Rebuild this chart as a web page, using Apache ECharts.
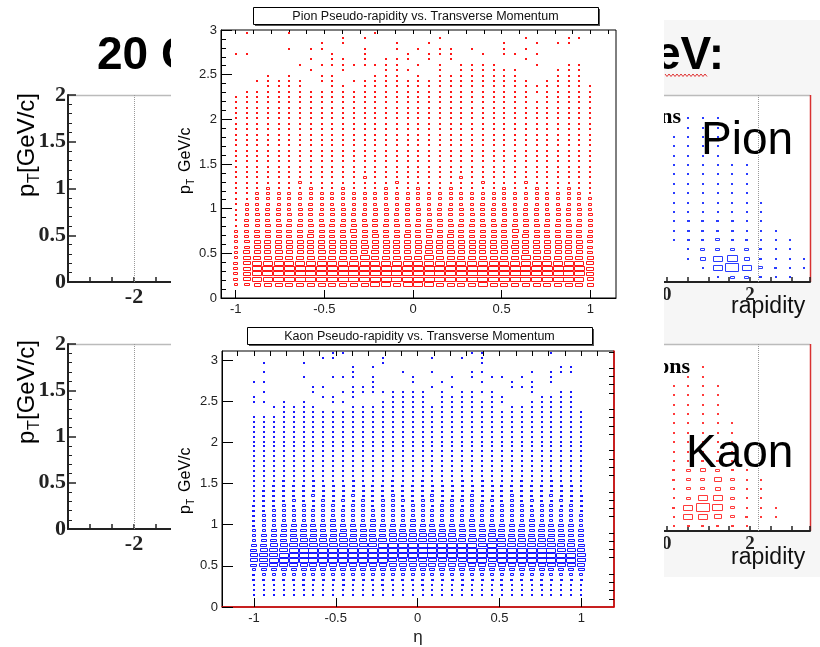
<!DOCTYPE html>
<html>
<head>
<meta charset="utf-8">
<script src="https://cdn.jsdelivr.net/npm/echarts@6/dist/echarts.min.js"></script>
<style>
  html, body { margin: 0; padding: 0; background: #fff; }
  #main { width: 820px; height: 647px; }
</style>
</head>
<body>
<div id="main"></div>
<script>
// eta bin centres, 34 columns (same binning for pion and kaon)
var etaCenters = [-1.000, -0.939, -0.879, -0.818, -0.758, -0.697, -0.636, -0.576, -0.515, -0.455,
  -0.394, -0.333, -0.273, -0.212, -0.152, -0.091, -0.030, 0.030, 0.091, 0.152,
  0.212, 0.273, 0.333, 0.394, 0.455, 0.515, 0.576, 0.636, 0.697, 0.758,
  0.818, 0.879, 0.939, 1.000]
var etaBinWidth = 0.0606
var ptBinHeight = 0.06

// pion box sizes, one row per pT bin (top to bottom), one digit per eta column (0 = empty, 9 = biggest)
var pionRows = [
  [2.97, '01000 10000 00010 00000 00000 00000 0000'],
  [2.91, '00000 00000 10100 00001 00000 00100 0110'],
  [2.85, '00000 00010 10000 10010 00000 10010 1100'],
  [2.79, '00000 10110 00100 10101 10100 10100 0000'],
  [2.73, '11000 00001 00100 01011 10010 11010 0000'],
  [2.67, '00000 00101 10101 11010 10000 00100 0000'],
  [2.61, '00000 01011 11111 10101 01111 00010 0110'],
  [2.55, '00000 00100 10001 11001 01111 11000 1110'],
  [2.49, '00010 10011 00011 10101 11111 11000 1110'],
  [2.43, '00111 11011 01111 11111 11111 11101 1110'],
  [2.37, '00011 11001 10111 11111 11111 11111 1111'],
  [2.31, '01111 11111 11111 11111 11111 11111 1111'],
  [2.25, '11111 11111 11111 11111 11111 11101 1111'],
  [2.19, '11111 11111 11111 11111 11111 11111 1111'],
  [2.13, '11111 11111 11111 11111 11111 11111 1111'],
  [2.07, '11111 11111 11111 11111 11111 11111 1111'],
  [2.01, '11111 11111 11111 11111 11111 11111 1111'],
  [1.95, '11111 11111 11111 11111 11111 11111 1111'],
  [1.89, '11111 11111 11111 11111 11111 11111 1111'],
  [1.83, '11111 11111 11111 11111 11111 11111 1111'],
  [1.77, '11111 11211 11111 11111 11111 11111 1111'],
  [1.71, '11112 11112 11111 21111 12111 11111 1111'],
  [1.65, '11121 11112 11112 12111 11211 12111 1111'],
  [1.59, '11112 21111 12211 21112 11111 21121 1211'],
  [1.53, '11111 12121 11121 11211 21121 11111 2111'],
  [1.47, '11121 21212 21122 21212 21212 12121 2121'],
  [1.41, '12122 22122 21222 12222 22122 21222 2221'],
  [1.35, '12222 22222 22322 22222 23222 22222 2222'],
  [1.29, '12222 23222 22222 32222 22232 22322 2222'],
  [1.23, '12232 22322 32223 22322 32222 32232 2322'],
  [1.17, '12333 33333 33333 33333 33333 33333 3332'],
  [1.11, '12333 33333 33333 33333 33333 33333 3333'],
  [1.05, '23333 33433 33333 34333 33343 33333 3333'],
  [0.99, '23344 34434 43344 34434 44344 43443 4443'],
  [0.93, '23444 44444 44444 44444 44444 44444 4444'],
  [0.87, '24444 44444 44454 44445 44444 44544 4444'],
  [0.81, '24455 55555 55555 55555 55555 55555 5554'],
  [0.75, '34555 55555 56555 55565 55555 56555 5554'],
  [0.69, '34555 55655 55565 56555 65555 55655 5555'],
  [0.63, '35666 66666 66666 66666 66666 66666 6665'],
  [0.57, '35666 66666 66766 66676 66666 67666 6665'],
  [0.51, '36667 66676 66676 66676 76667 66676 6665'],
  [0.45, '37777 77777 77877 77787 77777 77877 7776'],
  [0.39, '47888 88888 88888 88888 88888 88888 8887'],
  [0.33, '47899 99999 99999 99999 99999 99999 9997'],
  [0.27, '47899 99999 99999 99999 99999 99999 9997'],
  [0.21, '47889 99999 99999 99999 99999 99999 9986'],
  [0.15, '35677 77777 77788 78887 77787 77777 7776']
]

// kaon box sizes, same layout
var kaonRows = [
  [3.09, '00000 00011 00000 00000 00110 00000 1000'],
  [3.03, '00000 00110 00010 00010 01010 00000 0000'],
  [2.97, '01000 10000 00010 00000 00010 00000 0000'],
  [2.91, '00000 00000 10100 00000 00000 00000 0110'],
  [2.85, '01000 00000 10000 10010 00110 00010 1110'],
  [2.79, '00000 10011 10100 01000 10101 10100 1000'],
  [2.73, '11000 00000 00100 01001 00010 01010 1000'],
  [2.67, '00000 01100 11100 00010 10000 01110 0000'],
  [2.61, '01000 01001 11111 11101 01111 00010 0110'],
  [2.55, '10000 00110 10001 11101 11101 10001 1110'],
  [2.49, '11010 10011 00011 11101 11111 10011 1110'],
  [2.43, '00111 11000 11111 11111 11111 01111 1110'],
  [2.37, '00011 11111 11111 11111 11111 11111 1111'],
  [2.31, '11111 11111 11111 11111 11111 11111 1111'],
  [2.25, '11111 11111 11111 11111 11111 11111 1111'],
  [2.19, '11111 11111 11111 11111 11111 11111 1111'],
  [2.13, '11111 11111 11111 11111 11111 11111 1111'],
  [2.07, '11111 11111 11111 11111 11111 11111 1111'],
  [2.01, '11111 11111 11111 11111 11111 11111 1111'],
  [1.95, '11111 11111 11111 11111 11111 11111 1111'],
  [1.89, '11111 11121 11111 11211 11111 12111 1111'],
  [1.83, '11121 21111 11211 12111 21111 21112 1111'],
  [1.77, '11211 21121 12111 21121 11211 12111 2111'],
  [1.71, '11212 21121 11212 11112 21121 21121 1211'],
  [1.65, '12212 12122 12121 21122 12212 11221 2121'],
  [1.59, '12222 22222 22222 22222 22222 22222 2221'],
  [1.53, '12232 23222 32223 22322 23232 22322 3222'],
  [1.47, '22333 33333 33333 33333 33333 33333 3332'],
  [1.41, '23333 33333 33333 33333 33333 33333 3332'],
  [1.35, '23333 34333 43334 33343 33433 34333 4333'],
  [1.29, '23334 33434 34344 43443 44434 34343 3433'],
  [1.23, '33343 43443 44344 34434 43443 44434 4343'],
  [1.17, '33444 44444 44444 44444 44444 44444 4443'],
  [1.11, '34444 44444 44444 44444 44444 44444 4444'],
  [1.05, '34444 44454 44544 45444 44544 44454 4444'],
  [0.99, '34455 55555 55555 55555 55555 55555 5554'],
  [0.93, '44556 66566 66666 66666 66666 65656 6555'],
  [0.87, '45566 66667 66667 77777 76667 66666 6655'],
  [0.81, '45667 77778 77787 88888 87878 87777 7665'],
  [0.75, '56778 88888 88899 99999 99989 88888 8776'],
  [0.69, '67889 99999 99999 99999 99999 99999 9887'],
  [0.63, '78899 99999 99999 99999 99999 99999 9998'],
  [0.57, '78999 99999 99998 88888 88998 99999 9998'],
  [0.51, '68888 77777 77777 77777 77777 77777 8887'],
  [0.45, '45555 55555 55555 55555 55555 55555 5556'],
  [0.39, '34444 44444 44444 44444 44444 44444 4444'],
  [0.33, '33333 33333 33333 33333 33333 33333 3333'],
  [0.27, '22222 32223 22232 22322 23222 32223 2222'],
  [0.21, '22222 22222 22222 22222 22222 22222 2222'],
  [0.15, '11111 21111 12111 11211 11121 11112 1111']
]

// background slide plots (rapidity vs pT), partly hidden
var rapCenters = [0.17, 0.52, 0.87, 1.22, 1.57, 1.92, 2.26, 2.61, 2.96, 3.30]
var rapBinWidth = 0.345
var bgPtBinHeight = 0.1
var bgPionRows = [
  [1.75, '0111000000'], [1.65, '0111000000'], [1.55, '1111000000'], [1.45, '1111000000'],
  [1.35, '1111000000'], [1.25, '1111110000'], [1.15, '1111110000'], [1.05, '1111110000'],
  [0.95, '1111110000'], [0.85, '1111111000'], [0.75, '1111111000'], [0.65, '1222211000'],
  [0.55, '1222211100'], [0.45, '1223221110'], [0.35, '0133332110'], [0.25, '0146742111'],
  [0.15, '0016963211'], [0.05, '0001332110']
]
var bgKaonRows = [
  [1.75, '0010000000'], [1.65, '0110000000'], [1.55, '1111000000'], [1.45, '1111000000'],
  [1.35, '1111000000'], [1.25, '1111000000'], [1.15, '1111100000'], [1.05, '1111100000'],
  [0.95, '1111100000'], [0.85, '1121100000'], [0.75, '1122100000'], [0.65, '2343210000'],
  [0.55, '2335311000'], [0.45, '1334311000'], [0.35, '1366311000'], [0.25, '2697311100'],
  [0.15, '1665321100'], [0.05, '1222210000']
]
var leftDottedEta = -2
var rightDottedRap = 2.19

// tick values
var leftBgXLabels = [-2, 0, 2]
var rightBgXLabels = [-2, 0, 2]
var pionMajorX = [-1, -0.5, 0, 0.5, 1]
var pionMinorX = [-1.0, -0.9, -0.8, -0.7, -0.6, -0.5, -0.4, -0.3, -0.2, -0.1, 0, 0.1, 0.2, 0.3, 0.4, 0.5, 0.6, 0.7, 0.8, 0.9, 1.0, 1.1]
var kaonMajorX = [-1, -0.5, 0, 0.5, 1]
var kaonMinorX = [-1.1, -1.0, -0.9, -0.8, -0.7, -0.6, -0.5, -0.4, -0.3, -0.2, -0.1, 0, 0.1, 0.2, 0.3, 0.4, 0.5, 0.6, 0.7, 0.8, 0.9, 1.0, 1.1]
var kaonMajorY = [0, 0.5, 1, 1.5, 2, 2.5, 3]
var kaonMinorY = [0.1, 0.2, 0.3, 0.4, 0.6, 0.7, 0.8, 0.9, 1.1, 1.2, 1.3, 1.4, 1.6, 1.7, 1.8, 1.9, 2.1, 2.2, 2.3, 2.4, 2.6, 2.7, 2.8, 2.9, 3.1]

var sans = '"Liberation Sans", Arial, sans-serif'
var serif = '"Liberation Serif", "Times New Roman", serif'

// rows of digit strings -> [x, y, level]
function buildBoxes (rows, centers) {
  var out = []
  rows.forEach(function (r) {
    var lv = r[1].replace(/ /g, '')
    for (var i = 0; i < lv.length; i++) {
      var n = +lv[i]
      if (n > 0) out.push([centers[i], r[0], n])
    }
  })
  return out
}

// ROOT style "box" drawing
function boxRenderer (color, bw, bh) {
  return function (params, api) {
    var c = api.coord([api.value(0), api.value(1)])
    var sz = api.size([bw, bh])
    var s = api.value(2) / 9
    var W = Math.max(Math.round(sz[0] * s), 2)
    var H = Math.max(Math.round(sz[1] * s), 2)
    // outlines keep a one pixel hole once the box is wide enough
    if (W >= 4) H = Math.max(H, 3)
    var x0 = Math.round(c[0] - W / 2)
    var y0 = Math.round(c[1] - H / 2)
    if (W <= 2 || H <= 2) {
      return {type: 'rect', shape: {x: x0, y: y0, width: W, height: H}, style: {fill: color}}
    }
    return {
      type: 'rect',
      shape: {x: x0 + 0.5, y: y0 + 0.5, width: W - 1, height: H - 1},
      style: {fill: 'none', stroke: color, lineWidth: 1}
    }
  }
}

function dotted (val) {
  return {
    silent: true, symbol: 'none', label: {show: false},
    lineStyle: {type: 'dotted', color: '#999', width: 1},
    data: [{xAxis: val}]
  }
}

function textEl (x, y, text, font, z, align, color) {
  return {
    type: 'text', x: x, y: y, z: z, silent: true,
    style: {
      text: text, font: font, fill: color || '#000',
      align: align || 'left', verticalAlign: 'middle',
      textAlign: align || 'left', textVerticalAlign: 'middle'
    }
  }
}

function lineEl (x1, y1, x2, y2, color, w, z) {
  return {type: 'line', z: z, silent: true, shape: {x1: x1, y1: y1, x2: x2, y2: y2}, style: {stroke: color, lineWidth: w}}
}

// rotated "pT ..." label
function ptLabel (x, y, size, rest, gap, z) {
  var f = size + 'px ' + sans
  var fs = Math.round(size * 0.65) + 'px ' + sans
  return {
    type: 'group', x: x, y: y, rotation: Math.PI / 2, z: z,
    children: [
      textEl(0, 0, 'p', f, z),
      textEl(size * 0.58, size * 0.32, 'T', fs, z),
      textEl(size * 0.58 + size * gap, 0, rest, f, z)
    ]
  }
}

function titleBox (x, y, w, h, text) {
  return [
    {type: 'rect', z: 10, silent: true, shape: {x: x + 2, y: y + 2, width: w, height: h}, style: {fill: '#555'}},
    {type: 'rect', z: 10, silent: true, shape: {x: x + 0.5, y: y + 0.5, width: w, height: h}, style: {fill: '#fff', stroke: '#000', lineWidth: 1}},
    textEl(x + w / 2, y + h / 2 + 1, text, '12.5px ' + sans, 11, 'center', '#111')
  ]
}

var squiggle = []
for (var sx = 665; sx <= 708; sx += 2) squiggle.push([sx, (sx % 4 === 1) ? 74 : 76.5])

var bgAxisLine = {onZero: false, lineStyle: {color: '#222', width: 2}}
var bgTick = {inside: true, length: 5, lineStyle: {color: '#222', width: 1.5}}

function bgX (grid, min, max, labels, size) {
  return {
    gridIndex: grid, type: 'value', min: min, max: max, interval: 0.5, z: 3,
    axisLine: bgAxisLine, axisTick: bgTick, splitLine: {show: false},
    axisLabel: {customValues: labels, fontFamily: serif, fontWeight: 'bold', fontSize: size, color: '#222', margin: 4}
  }
}
function bgY (grid) {
  return {
    gridIndex: grid, type: 'value', min: 0, max: 2, interval: 0.5, z: 3,
    axisLine: bgAxisLine, splitLine: {show: false},
    axisTick: {inside: true, length: 8, lineStyle: {color: '#222', width: 1.5}},
    minorTick: {show: true, splitNumber: 5, length: 4, lineStyle: {color: '#222', width: 1}},
    axisLabel: {fontFamily: serif, fontWeight: 'bold', fontSize: 22, color: '#222', margin: 2}
  }
}

var black = {color: '#000', width: 1}
var redLine = {onZero: false, lineStyle: {color: '#e00000', width: 1.5}}
var blackLine = {onZero: false, lineStyle: black}
var tickLabel = {fontFamily: sans, fontSize: 13, color: '#222', margin: 5}

var myChart = echarts.init(document.getElementById('main'), null, {renderer: 'canvas'})
var option = {
  animation: false,
  backgroundColor: '#fff',
  grid: [
    {left: 68, top: 95, width: 330, height: 187, z: 3},
    {left: 68, top: 344, width: 330, height: 185, z: 3},
    {left: 520.75, top: 95, width: 289.25, height: 187, z: 3},
    {left: 520.75, top: 344, width: 289.25, height: 187, z: 3},
    {left: 221, top: 30, width: 395, height: 268, z: 8, show: true, borderColor: '#000', borderWidth: 1, backgroundColor: 'rgba(0,0,0,0)'},
    {left: 222, top: 351, width: 392, height: 265, z: 8, show: true, borderColor: '#000', borderWidth: 1, backgroundColor: 'rgba(0,0,0,0)'}
  ],
  xAxis: [
    bgX(0, -3.5, 4, leftBgXLabels, 22),
    bgX(1, -3.5, 4, leftBgXLabels, 22),
    bgX(2, -3.5, 3.437, rightBgXLabels, 19),
    bgX(3, -3.5, 3.437, rightBgXLabels, 19),
    {
      gridIndex: 4, type: 'value', min: -1.083, max: 1.145, z: 8,
      axisLine: blackLine, splitLine: {show: false},
      axisTick: {inside: true, length: 8, customValues: pionMajorX, lineStyle: black},
      axisLabel: Object.assign({customValues: pionMajorX}, tickLabel)
    },
    {
      gridIndex: 4, type: 'value', min: -1.083, max: 1.145, z: 8,
      axisLine: {show: false, onZero: false}, splitLine: {show: false}, axisLabel: {show: false},
      axisTick: {inside: true, length: 4, customValues: pionMinorX, lineStyle: black}
    },
    {
      gridIndex: 5, type: 'value', min: -1.195, max: 1.2, z: 8,
      axisLine: redLine, splitLine: {show: false},
      axisTick: {inside: true, length: 9, customValues: kaonMajorX, lineStyle: black},
      axisLabel: Object.assign({customValues: kaonMajorX}, tickLabel),
      name: 'η', nameLocation: 'middle', nameGap: 22,
      nameTextStyle: {fontFamily: sans, fontSize: 17, color: '#222'}
    },
    {
      gridIndex: 5, type: 'value', min: -1.195, max: 1.2, z: 8,
      axisLine: {show: false, onZero: false}, splitLine: {show: false}, axisLabel: {show: false},
      axisTick: {inside: true, length: 5, customValues: kaonMinorX, lineStyle: black}
    }
  ],
  yAxis: [
    bgY(0),
    bgY(1),
    {gridIndex: 2, type: 'value', min: 0, max: 2, show: false},
    {gridIndex: 3, type: 'value', min: 0, max: 2, show: false},
    {
      gridIndex: 4, type: 'value', min: 0, max: 3, interval: 0.5, z: 8,
      axisLine: blackLine, splitLine: {show: false},
      axisTick: {inside: true, length: 11, lineStyle: black},
      minorTick: {show: true, splitNumber: 5, length: 5, lineStyle: black},
      axisLabel: Object.assign({}, tickLabel, {margin: 4})
    },
    {
      gridIndex: 5, type: 'value', min: 0, max: 3.11, z: 8,
      axisLine: blackLine, splitLine: {show: false},
      axisTick: {inside: true, length: 11, customValues: kaonMajorY, lineStyle: black},
      axisLabel: Object.assign({customValues: kaonMajorY}, tickLabel, {margin: 4})
    },
    {
      gridIndex: 5, type: 'value', min: 0, max: 3.11, z: 8,
      axisLine: {show: false, onZero: false}, splitLine: {show: false}, axisLabel: {show: false},
      axisTick: {inside: true, length: 5, customValues: kaonMinorY, lineStyle: black}
    },
    {
      gridIndex: 5, type: 'value', min: 0, max: 3.11, z: 8, position: 'right',
      axisLine: redLine, splitLine: {show: false},
      axisTick: {show: false}, axisLabel: {show: false}
    }
  ],
  series: [
    {type: 'scatter', xAxisIndex: 0, yAxisIndex: 0, data: [], z: 4, markLine: dotted(leftDottedEta)},
    {type: 'scatter', xAxisIndex: 1, yAxisIndex: 1, data: [], z: 4, markLine: dotted(leftDottedEta)},
    {type: 'scatter', xAxisIndex: 2, yAxisIndex: 2, data: [], z: 4, markLine: dotted(rightDottedRap)},
    {type: 'scatter', xAxisIndex: 3, yAxisIndex: 3, data: [], z: 4, markLine: dotted(rightDottedRap)},
    {
      type: 'custom', xAxisIndex: 2, yAxisIndex: 2, z: 4, silent: true,
      data: buildBoxes(bgPionRows, rapCenters),
      renderItem: boxRenderer('#2a3cff', rapBinWidth, bgPtBinHeight)
    },
    {
      type: 'custom', xAxisIndex: 3, yAxisIndex: 3, z: 4, silent: true,
      data: buildBoxes(bgKaonRows, rapCenters),
      renderItem: boxRenderer('#ff3a3a', rapBinWidth, bgPtBinHeight)
    },
    {
      type: 'custom', xAxisIndex: 4, yAxisIndex: 4, z: 9, silent: true,
      data: buildBoxes(pionRows, etaCenters),
      renderItem: boxRenderer('#ff1818', etaBinWidth, ptBinHeight)
    },
    {
      type: 'custom', xAxisIndex: 6, yAxisIndex: 5, z: 9, silent: true,
      data: buildBoxes(kaonRows, etaCenters),
      renderItem: boxRenderer('#1818ff', etaBinWidth, ptBinHeight)
    }
  ],
  graphic: {
    elements: [
      // slide background pieces
      {type: 'rect', z: 1, silent: true, shape: {x: 664, y: 20, width: 156, height: 557}, style: {fill: '#f6f6f6'}},
      {type: 'rect', z: 2, silent: true, shape: {x: 664, y: 95, width: 146, height: 187}, style: {fill: '#fff'}},
      {type: 'rect', z: 2, silent: true, shape: {x: 664, y: 344, width: 146, height: 187}, style: {fill: '#fff'}},
      lineEl(68, 95.5, 400, 95.5, '#bbb', 1.5, 3),
      lineEl(68, 344.5, 400, 344.5, '#bbb', 1.5, 3),
      lineEl(664, 95.5, 810, 95.5, '#bbb', 1.5, 3),
      lineEl(664, 344.5, 810, 344.5, '#bbb', 1.5, 3),
      lineEl(810.5, 95, 810.5, 282, '#d83030', 1.5, 3),
      lineEl(810.5, 344, 810.5, 531, '#d83030', 1.5, 3),
      textEl(97, 56, '20 G', 'bold 46px ' + sans, 5),
      textEl(655, 56, 'eV:', 'bold 46px ' + sans, 5),
      {type: 'polyline', z: 5, silent: true, shape: {points: squiggle}, style: {stroke: '#e03030', lineWidth: 1, fill: 'none'}},
      ptLabel(27, 197, 24, '[GeV/c]', 0.42, 5),
      ptLabel(27, 444, 24, '[GeV/c]', 0.42, 5),
      textEl(681, 117, 'Pions', 'bold 22px ' + serif, 5, 'right'),
      textEl(690, 367, 'Kaons', 'bold 22px ' + serif, 5, 'right'),
      textEl(701, 141, 'Pion', '46px ' + sans, 5),
      textEl(686, 454, 'Kaon', '46px ' + sans, 5),
      textEl(731, 307, 'rapidity', '23px ' + sans, 5, 'left', '#111'),
      textEl(731, 558, 'rapidity', '23px ' + sans, 5, 'left', '#111'),
      // white panel holding the two histograms
      {type: 'rect', z: 7, silent: true, shape: {x: 171, y: 0, width: 493, height: 647}, style: {fill: '#fff'}}
    ]
      .concat(titleBox(253, 7, 345, 17, 'Pion Pseudo-rapidity vs. Transverse Momentum'))
      .concat(titleBox(247, 327, 345, 17, 'Kaon Pseudo-rapidity vs. Transverse Momentum'))
      .concat([
        ptLabel(186, 194, 16, 'GeV/c', 0.8, 11),
        ptLabel(186, 514, 16, 'GeV/c', 0.8, 11)
      ])
  }
}
myChart.setOption(option)
</script>
</body>
</html>
